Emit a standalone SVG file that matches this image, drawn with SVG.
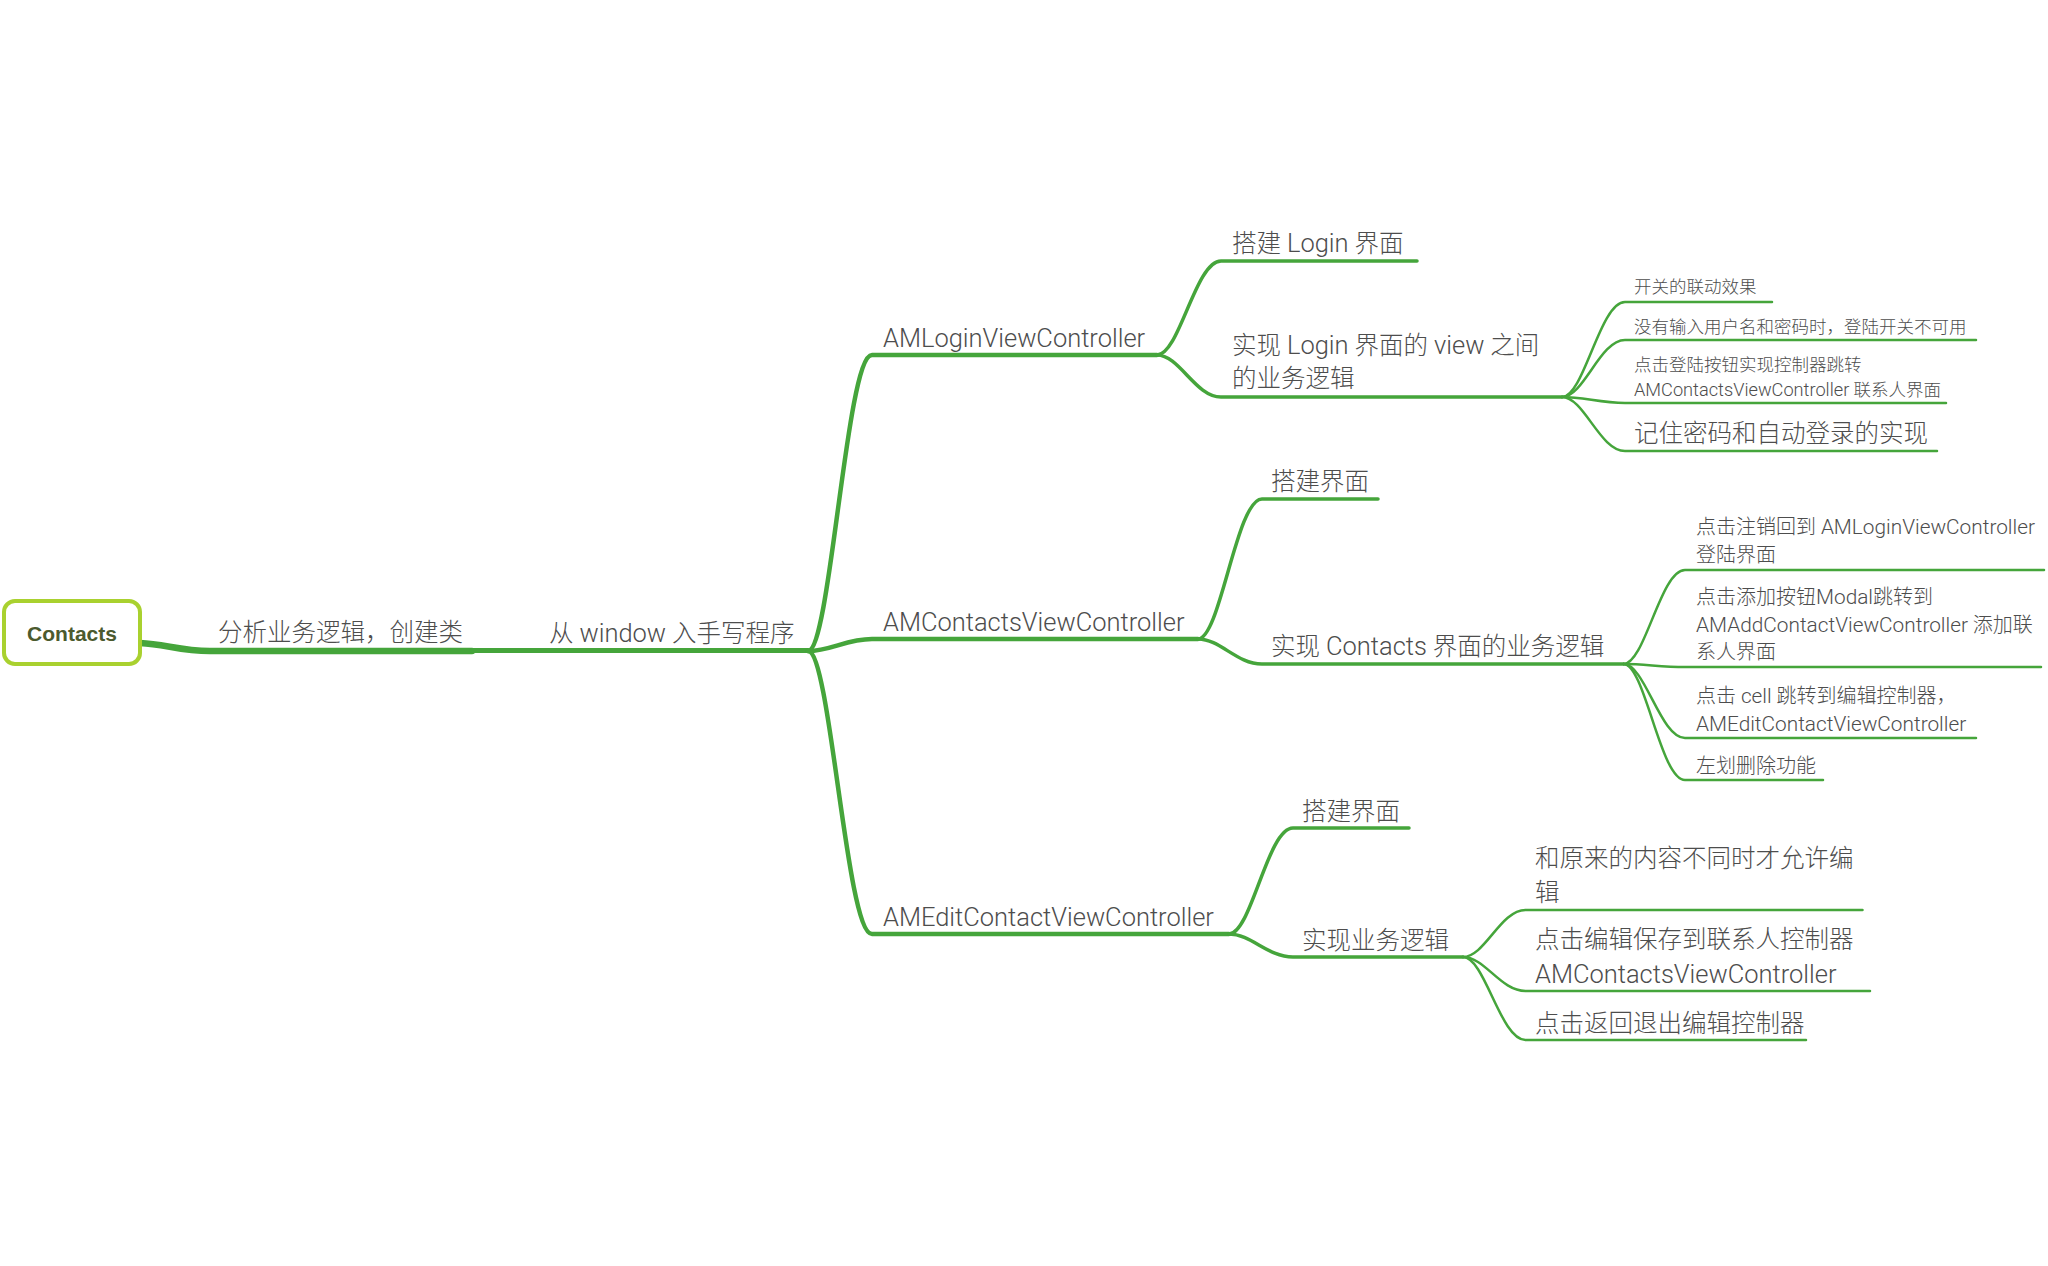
<svg xmlns="http://www.w3.org/2000/svg" width="2048" height="1266" viewBox="0 0 2048 1266">
<style>
.t{font-family:Roboto,"Noto Sans CJK SC",sans-serif;fill:#4d4d4d;font-weight:300}
.f1{font-size:24.5px}
.f2{font-size:17.5px}
.f3{font-size:20px}
.en{font-size:1.04em}
.c{fill:none;stroke:#45a53b;stroke-linecap:round}
.l0{stroke-width:6.5}
.l1{stroke-width:5}
.l2{stroke-width:4.5}
.l3{stroke-width:3.5}
.l4{stroke-width:2.5}
</style>
<rect width="2048" height="1266" fill="#ffffff"/>
<g id="connectors">
<path class="c l0" d="M140 643 C165 644 180 651 210 651 L472 651"/>
<path class="c l1" d="M472 650.5 L808 650.5"/>
<path class="c l2" d="M808 651 C830.4 651 846.4 355 872 355 L1157 355"/>
<path class="c l2" d="M808 651 C830.4 651 846.4 639 872 639 L1198 639"/>
<path class="c l2" d="M808 651 C830.4 651 846.4 934 872 934 L1229 934"/>
<path class="c l3" d="M1157 355 C1179.4 355 1195.4 261 1221 261 L1417 261"/>
<path class="c l3" d="M1157 355 C1179.4 355 1195.4 397 1221 397 L1562 397"/>
<path class="c l3" d="M1198 639 C1220.4 639 1236.4 499 1262 499 L1378 499"/>
<path class="c l3" d="M1198 639 C1220.4 639 1236.4 664 1262 664 L1623.5 664"/>
<path class="c l3" d="M1229 934 C1251.4 934 1267.4 828 1293 828 L1409 828"/>
<path class="c l3" d="M1229 934 C1251.4 934 1267.4 957 1293 957 L1463 957"/>
<path class="c l4" d="M1562 397 C1584 397 1599.8 302 1625 302 L1772 302"/>
<path class="c l4" d="M1562 397 C1584 397 1599.8 340 1625 340 L1976 340"/>
<path class="c l4" d="M1562 397 C1584 397 1599.8 403 1625 403 L1946 403"/>
<path class="c l4" d="M1562 397 C1584 397 1599.8 451 1625 451 L1937 451"/>
<path class="c l4" d="M1623.5 664 C1645 664 1660.4 570 1685 570 L2044 570"/>
<path class="c l4" d="M1623.5 664 C1645 664 1660.4 667 1685 667 L2041 667"/>
<path class="c l4" d="M1623.5 664 C1645 664 1660.4 738 1685 738 L1976 738"/>
<path class="c l4" d="M1623.5 664 C1645 664 1660.4 780 1685 780 L1823 780"/>
<path class="c l4" d="M1463 957 C1484.9 957 1500.5 910 1525.5 910 L1862.5 910"/>
<path class="c l4" d="M1463 957 C1484.9 957 1500.5 991 1525.5 991 L1870 991"/>
<path class="c l4" d="M1463 957 C1484.9 957 1500.5 1040 1525.5 1040 L1806 1040"/>
</g>
<g id="root">
<rect x="4" y="601" width="136" height="63" rx="11" fill="#ffffff" stroke="#a9d12f" stroke-width="4"/>
<text x="72" y="641" text-anchor="middle" style="font-family:'Liberation Sans','Noto Sans CJK SC',sans-serif;font-size:21px;font-weight:bold;fill:#4b5a2e">Contacts</text>
</g>
<g id="n-analyze"><text class="t f1" x="218" y="641">分析业务逻辑，创建类</text></g>
<g id="n-window"><text class="t f1" x="549" y="642">从 <tspan class="en">window</tspan> 入手写程序</text></g>
<g id="n-login"><text class="t f1" x="883" y="347"><tspan class="en">AMLoginViewController</tspan></text></g>
<g id="n-contacts"><text class="t f1" x="883" y="631"><tspan class="en">AMContactsViewController</tspan></text></g>
<g id="n-edit"><text class="t f1" x="883" y="926"><tspan class="en">AMEditContactViewController</tspan></text></g>
<g id="n-login-ui"><text class="t f1" x="1232" y="252">搭建 <tspan class="en">Login</tspan> 界面</text></g>
<g id="n-login-logic"><text class="t f1" x="1232" y="354">实现 <tspan class="en">Login</tspan> 界面的 <tspan class="en">view</tspan> 之间</text><text class="t f1" x="1232" y="387">的业务逻辑</text></g>
<g id="n-l1"><text class="t f2" x="1634" y="293">开关的联动效果</text></g>
<g id="n-l2"><text class="t f2" x="1634" y="333">没有输入用户名和密码时，登陆开关不可用</text></g>
<g id="n-l3"><text class="t f2" x="1634" y="371">点击登陆按钮实现控制器跳转</text><text class="t f2" x="1634" y="396"><tspan class="en">AMContactsViewController</tspan> 联系人界面</text></g>
<g id="n-l4"><text class="t f1" x="1634" y="442">记住密码和自动登录的实现</text></g>
<g id="n-contacts-ui"><text class="t f1" x="1271" y="490">搭建界面</text></g>
<g id="n-contacts-logic"><text class="t f1" x="1271" y="655">实现 <tspan class="en">Contacts</tspan> 界面的业务逻辑</text></g>
<g id="n-c1"><text class="t f3" x="1696" y="534">点击注销回到 <tspan class="en">AMLoginViewController</tspan></text><text class="t f3" x="1696" y="561.5">登陆界面</text></g>
<g id="n-c2"><text class="t f3" x="1696" y="604">点击添加按钮<tspan class="en">Modal</tspan>跳转到</text><text class="t f3" x="1696" y="631.5"><tspan class="en">AMAddContactViewController</tspan> 添加联</text><text class="t f3" x="1696" y="659">系人界面</text></g>
<g id="n-c3"><text class="t f3" x="1696" y="703">点击 <tspan class="en">cell</tspan> 跳转到编辑控制器，</text><text class="t f3" x="1696" y="730.5"><tspan class="en">AMEditContactViewController</tspan></text></g>
<g id="n-c4"><text class="t f3" x="1696" y="773">左划删除功能</text></g>
<g id="n-edit-ui"><text class="t f1" x="1302" y="820">搭建界面</text></g>
<g id="n-edit-logic"><text class="t f1" x="1302" y="949">实现业务逻辑</text></g>
<g id="n-e1"><text class="t f1" x="1535" y="867">和原来的内容不同时才允许编</text><text class="t f1" x="1535" y="901">辑</text></g>
<g id="n-e2"><text class="t f1" x="1535" y="948">点击编辑保存到联系人控制器</text><text class="t f1" x="1535" y="983"><tspan class="en">AMContactsViewController</tspan></text></g>
<g id="n-e3"><text class="t f1" x="1535" y="1032">点击返回退出编辑控制器</text></g>
</svg>
